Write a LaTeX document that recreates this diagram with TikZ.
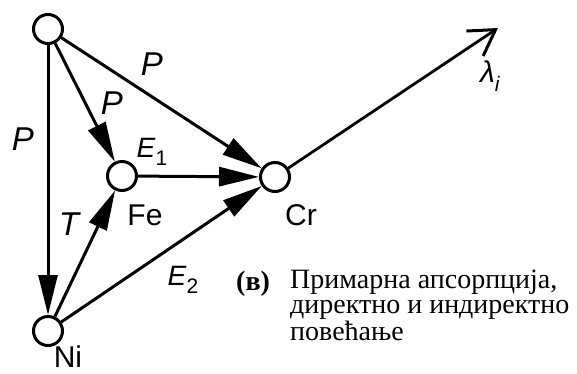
\documentclass[tikz,border=0pt]{standalone}
\usepackage{fontspec}
\setmainfont{Liberation Serif}
\setsansfont{Liberation Sans}
\usetikzlibrary{arrows.meta}
\newcommand{\idx}[2]{\textit{#1}\raisebox{-0.3em}{\fontsize{21}{21}\selectfont #2}}

\begin{document}
\begin{tikzpicture}[x=1pt,y=-1pt,
  atom/.style={draw,circle,line width=3pt,minimum size=29pt,inner sep=0pt,fill=white},
  lab/.style={font=\sffamily\fontsize{30}{30}\selectfont,inner sep=0pt},
  big/.style={lab,font=\sffamily\fontsize{33}{33}\selectfont},
  sub/.style={lab,font=\sffamily\fontsize{28}{28}\selectfont},
  capline/.style={font=\fontsize{28}{25}\selectfont,inner sep=0pt,anchor=base west},
  arr/.style={line width=3pt,-{Triangle[length=40pt,width=19pt]}},
  emit/.style={line width=2.8pt,-{Straight Barb[length=25pt,width=30pt,line width=3pt]}}
]
\useasboundingbox (0,0) rectangle (577,373);
% atoms
\node[atom] (src) at (48,29) {};
\node[atom] (fe) at (122,176) {};
\node[atom] (cr) at (275,177) {};
\node[atom] (ni) at (48,331) {};
\coordinate (out) at (498,28);
% transfers
\draw[arr] (src)--(ni);
\draw[arr] (src)--(fe);
\draw[arr] (src)--(cr);
\draw[arr] (fe)--(cr);
\draw[arr] (ni)--(fe);
\draw[arr] (ni)--(cr);
\draw[emit] (cr)--(out);
% labels
\node[big] (pleft) at (23,139) {\textit{P}};
\node[big] (pfe) at (112,103) {\textit{P}};
\node[big] (pcr) at (152,64) {\textit{P}};
\node[big] (tlab) at (70,224) {\textit{T}};
\node[sub] (eone) at (152,152) {\idx{E}{1}};
\node[sub] (etwo) at (183,280) {\idx{E}{2}};
\node[lab] (felab) at (145,215) {Fe};
\node[lab] (crlab) at (301,215) {Cr};
\node[lab] (nilab) at (68,357) {Ni};
\node[lab] (lam) at (490,76) {\idx{λ}{\textit{i}}};
% caption
\node[capline,font=\bfseries\fontsize{28}{28}\selectfont] (tag) at (236,290) {(в)};
\node[capline,align=left] (caption) at (290,340)
  {Примарна апсорпција,\\директно и индиректно\\повећање};
\end{tikzpicture}
\end{document}
